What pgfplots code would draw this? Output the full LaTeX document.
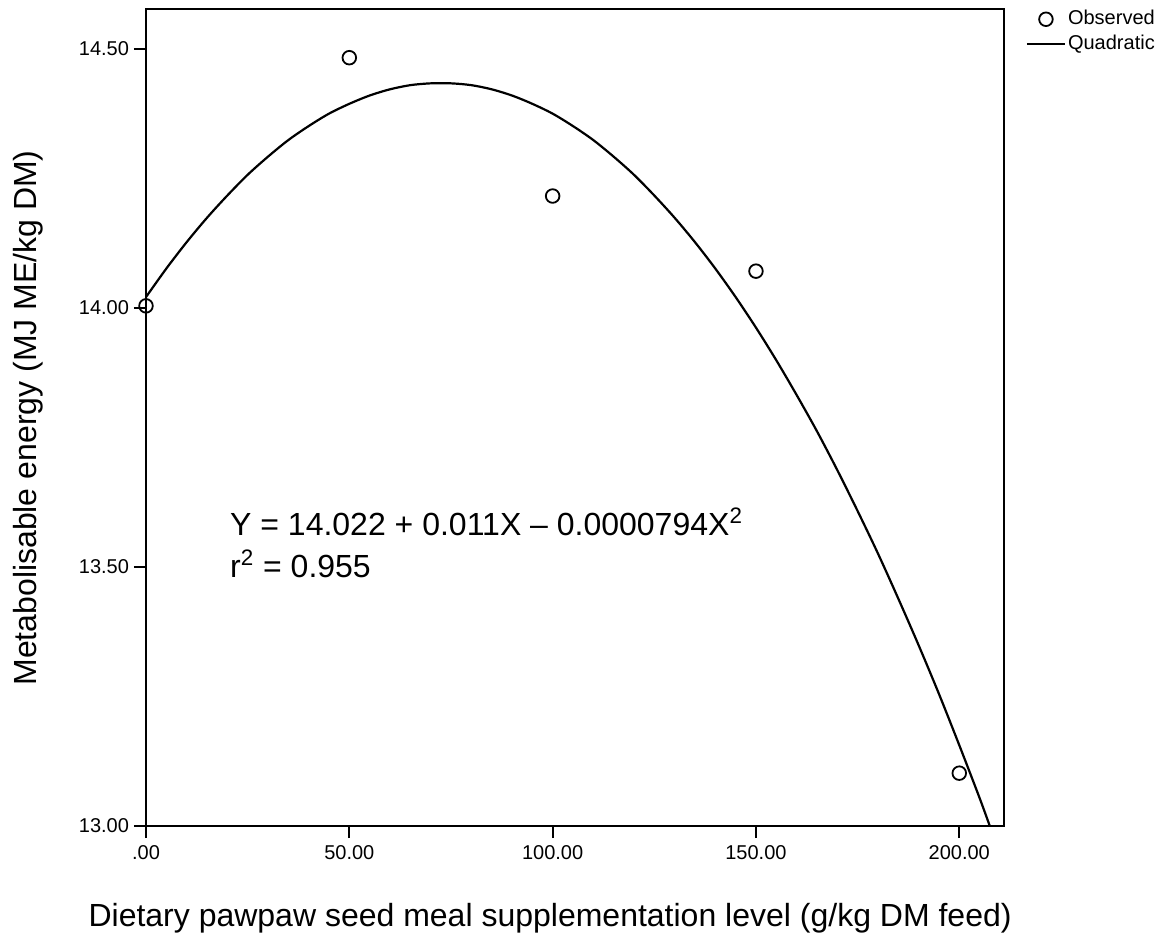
\documentclass[border=0pt]{standalone}
\usepackage{fontspec}
\setmainfont{Liberation Sans}
\usepackage{pgfplots}
\pgfplotsset{compat=1.18}

% legend glyphs: single circle, short solid line
\pgfplotsset{
  obslegend/.style={legend image code/.code={\draw[##1] plot coordinates {(9.5pt,0pt)};}},
  fitlegend/.style={legend image code/.code={\draw[##1] (0pt,0pt) -- (19pt,0pt);}},
}

\begin{document}
\begin{tikzpicture}
\begin{axis}[
  scale only axis,
  width=429pt, height=408.5pt,
  xmin=0, xmax=211,
  ymin=13, ymax=14.577,
  axis line style={line width=0.9pt, black},
  tick align=outside,
  xtick pos=bottom, ytick pos=left,
  major tick length=6pt,
  tick style={line width=0.9pt, black},
  xtick={0,50,100,150,200},
  xticklabels={.00,50.00,100.00,150.00,200.00},
  ytick={13,13.5,14,14.5},
  yticklabels={13.00,13.50,14.00,14.50},
  ticklabel style={font=\fontsize{10}{12}\selectfont},
  yticklabel style={xshift=1pt},
  legend style={
    at={(rel axis cs:1.018,1.006)}, anchor=north west,
    draw=none, fill=none,
    font=\fontsize{10}{12}\selectfont,
    row sep=1.5pt,
    nodes={inner sep=1pt},
  },
  legend cell align=left,
  clip mode=individual,
]

% observed means
\addplot[only marks, mark=o, mark size=3.4pt, line width=0.9pt, black, obslegend]
  coordinates {
    (0,14.004) (50,14.483) (100,14.216) (150,14.071) (200,13.102)
  };
\addlegendentry{Observed}

% fitted quadratic
\addplot[smooth, no marks, line width=1.1pt, black, fitlegend]
  coordinates {
    (0,14.021) (5,14.076) (10,14.127) (15,14.174) (20,14.217) (25,14.257)
    (30,14.292) (35,14.324) (40,14.351) (45,14.375) (50,14.394) (55,14.410)
    (60,14.422) (65,14.430) (70,14.4335) (75,14.4335) (80,14.430) (85,14.422)
    (90,14.410) (95,14.394) (100,14.375) (105,14.351) (110,14.324) (115,14.292)
    (120,14.257) (125,14.217) (130,14.174) (135,14.127) (140,14.076) (145,14.021)
    (150,13.962) (155,13.899) (160,13.832) (165,13.762) (170,13.687) (175,13.608)
    (180,13.526) (185,13.439) (190,13.349) (195,13.255) (200,13.156) (205,13.054)
    (207.5,13.000)
  };
\addlegendentry{Quadratic}

\node[anchor=base west, font=\fontsize{16}{19}\selectfont, inner sep=0pt]
  at (axis cs:20.6,13.560) {Y = 14.022 + 0.011X -- 0.0000794X\textsuperscript{2}};
\node[anchor=base west, font=\fontsize{16}{19}\selectfont, inner sep=0pt]
  at (axis cs:20.6,13.479) {r\textsuperscript{2} = 0.955};

\node[anchor=base, font=\fontsize{16}{19}\selectfont, inner sep=0pt]
  at (rel axis cs:0.471,-0.1224) {Dietary pawpaw seed meal supplementation level (g/kg DM feed)};
\node[anchor=center, rotate=90, font=\fontsize{16}{19}\selectfont, inner sep=0pt]
  at (rel axis cs:-0.1375,0.4994) {Metabolisable energy (MJ ME/kg DM)};
\end{axis}
\pgfresetboundingbox
\path[use as bounding box] (-73pt,-56.5pt) rectangle (512pt,413pt);
\end{tikzpicture}
\end{document}
